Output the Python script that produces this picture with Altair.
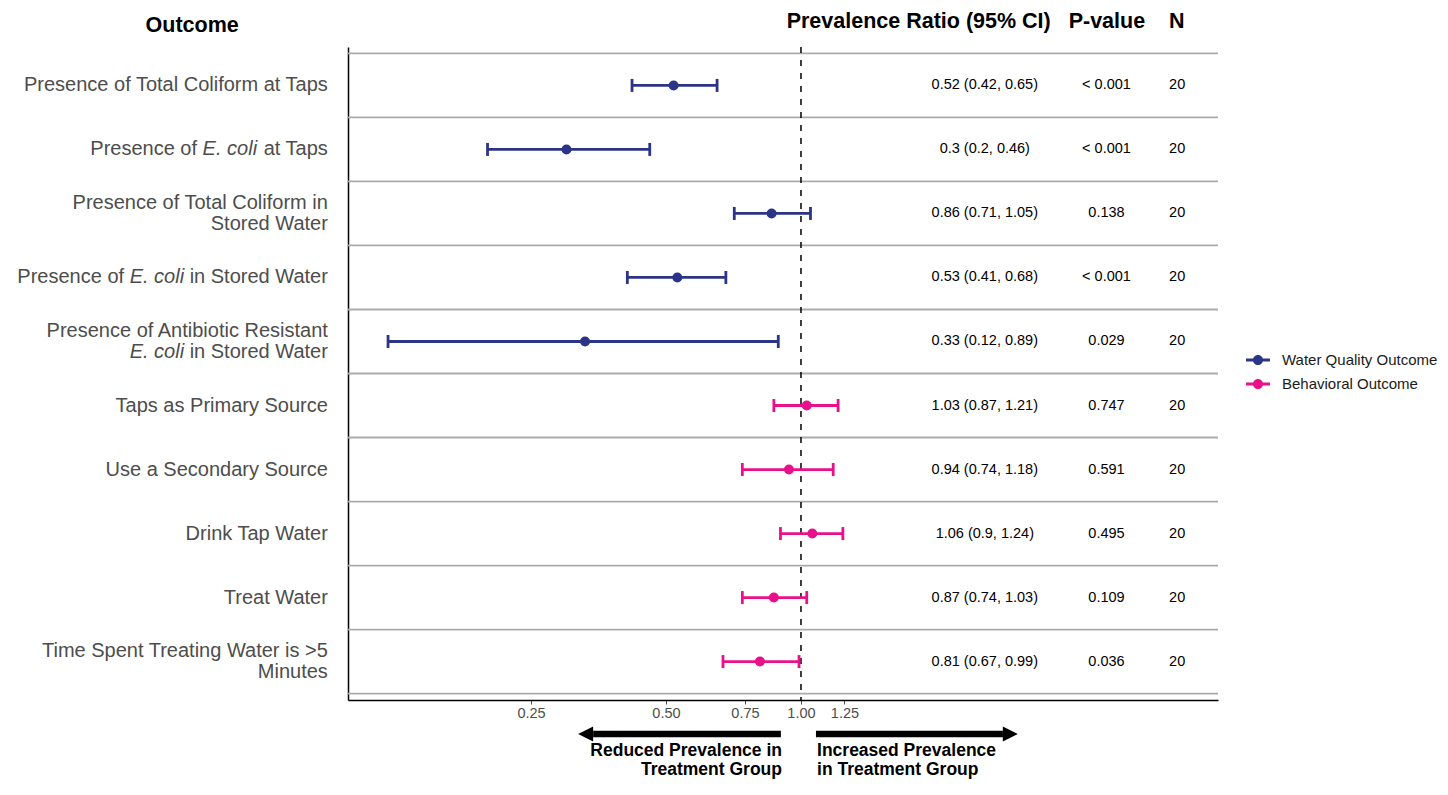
import altair as alt
import pandas as pd

# ---------------- data ----------------
outcomes = [
    "Presence of Total Coliform at Taps",
    "Presence of *E. coli* at Taps",
    "Presence of Total Coliform in\nStored Water",
    "Presence of *E. coli* in Stored Water",
    "Presence of Antibiotic Resistant\n*E. coli* in Stored Water",
    "Taps as Primary Source",
    "Use a Secondary Source",
    "Drink Tap Water",
    "Treat Water",
    "Time Spent Treating Water is >5\nMinutes",
]
groups = ["Water Quality Outcome"] * 5 + ["Behavioral Outcome"] * 5
estimates = [0.52, 0.3, 0.86, 0.53, 0.33, 1.03, 0.94, 1.06, 0.87, 0.81]
lowers = [0.42, 0.2, 0.71, 0.41, 0.12, 0.87, 0.74, 0.9, 0.74, 0.67]
uppers = [0.65, 0.46, 1.05, 0.68, 0.89, 1.21, 1.18, 1.24, 1.03, 0.99]
ci_labels = [
    "0.52 (0.42, 0.65)", "0.3 (0.2, 0.46)", "0.86 (0.71, 1.05)",
    "0.53 (0.41, 0.68)", "0.33 (0.12, 0.89)", "1.03 (0.87, 1.21)",
    "0.94 (0.74, 1.18)", "1.06 (0.9, 1.24)", "0.87 (0.74, 1.03)",
    "0.81 (0.67, 0.99)",
]
p_values = ["< 0.001", "< 0.001", "0.138", "< 0.001", "0.029",
            "0.747", "0.591", "0.495", "0.109", "0.036"]
n_values = ["20"] * 10
x_ticks = [0.25, 0.5, 0.75, 1.0, 1.25]
group_order = ["Water Quality Outcome", "Behavioral Outcome"]
group_colors = ["#2b3486", "#e8118b"]
headers = ["Prevalence Ratio (95% CI)", "P-value", "N"]
arrow_texts = ["Reduced Prevalence in\nTreatment Group",
               "Increased Prevalence\nin Treatment Group"]

# ---------------- layout constants ----------------
FONT = "Liberation Sans"
GREY = "#4d4d4d"
X_DOMAIN = [0.0977, 8.51]
Y_DOMAIN = [0.4, 10.6]
NULL_VALUE = 1.0
CI_X, P_X, N_X = 2.57, 4.8, 6.9
HEADER_X = [1.83, 4.81, 6.89]
HEADER_Y = 0.01
OUTCOME_HEADER_X, OUTCOME_HEADER_Y = 0.0439, 0.072
LABEL_X = 0.0881
LABEL_SIZE = 20
LABEL_LINE = 21.5
ARROW_Y = 11.13
ARROW_TEXT_Y = 11.40   # first line of the captions

# Arial / Liberation Sans advance widths (1/1000 em) and kerning pairs
W = {" ": 278, "a": 556, "t": 278, "T": 611, "p": 556, "s": 500, "i": 222,
     "n": 556, "S": 667, "o": 556, "r": 333, "e": 556, "d": 556, "W": 944,
     "E": 667, ".": 278, "c": 500, "l": 222}
KERN = {"Ta": -74, "Wa": -37}


def text_width(s, size):
    total = sum(W.get(ch, 556) for ch in s)
    total += sum(KERN.get(s[i:i + 2], 0) for i in range(len(s) - 1))
    return total * size / 1000.0


def parse(line):
    clean = line.replace("*", "")
    parts = []
    pos = 0
    for i, chunk in enumerate(line.split("*")):
        italic = (i % 2 == 1)
        start = pos
        pos += len(chunk)
        stripped = chunk.strip()
        if stripped:
            lead = len(chunk) - len(chunk.lstrip())
            end = start + lead + len(stripped)
            parts.append((stripped, italic, clean[end:]))
    return parts


rows = list(range(1, len(outcomes) + 1))
df = pd.DataFrame({
    "row": rows, "group": groups, "est": estimates, "lo": lowers, "hi": uppers,
    "ci": ci_labels, "p": p_values, "n": n_values,
})

xscale = alt.Scale(type="log", domain=X_DOMAIN, nice=False)
yscale = alt.Scale(domain=Y_DOMAIN, reverse=True, nice=False, zero=False)
x_axis = alt.Axis(values=x_ticks, format=".2f", grid=False, title=None,
                  domainColor="black", domainWidth=1.5, tickColor=GREY,
                  tickSize=4, tickWidth=1, labelColor=GREY, labelFont=FONT,
                  labelFontSize=14.5, labelPadding=2, labelOverlap=False,
                  labelFlush=False)
y_axis = alt.Axis(labels=False, ticks=False, grid=False, title=None,
                  domainColor="black", domainWidth=1.5)
cscale = alt.Scale(domain=group_order, range=group_colors)
legend_symbol = ("M-1,-0.12L1,-0.12L1,0.12L-1,0.12Z"
                 "M0.42,0A0.42,0.42,0,1,1,-0.42,0A0.42,0.42,0,1,1,0.42,0Z")
legend = alt.Legend(
    title=None, orient="none", legendX=898, legendY=301,
    symbolType=legend_symbol, symbolSize=576, symbolStrokeWidth=0,
    symbolOpacity=1, labelFont=FONT, labelFontSize=15, labelColor="#1a1a1a",
    labelOffset=12, rowPadding=4, padding=0)
color_enc = alt.Color("group:N", scale=cscale, legend=legend)


def X(field):
    return alt.X(field, type="quantitative", scale=xscale, axis=x_axis)


def Y(field):
    return alt.Y(field, type="quantitative", scale=yscale, axis=y_axis)


# grid lines between rows
grid_df = pd.DataFrame({"g": [r - 0.5 for r in rows] + [rows[-1] + 0.5]})
grid = alt.Chart(grid_df).mark_rule(color="#ababab", strokeWidth=1.8).encode(y=Y("g"))

ref = alt.Chart(pd.DataFrame({"v": [NULL_VALUE]})).mark_rule(
    color="black", strokeWidth=1.5, strokeDash=[6, 7]).encode(x=X("v"))

bars = alt.Chart(df).mark_rule(strokeWidth=2.8).encode(
    x=X("lo"), x2="hi", y=Y("row"), color=color_enc)

caps = alt.Chart(df).transform_fold(["lo", "hi"], as_=["which", "bound"]).mark_tick(
    orient="vertical", thickness=2.8, size=13, opacity=1).encode(
    x=X("bound"), y=Y("row"), color=color_enc)

points = alt.Chart(df).mark_point(filled=True, size=100, opacity=1, shape="circle").encode(
    x=X("est"), y=Y("row"), color=color_enc)

text_layers = []
for xpos, field in [(CI_X, "ci"), (P_X, "p"), (N_X, "n")]:
    text_layers.append(
        alt.Chart(df.assign(xpos=xpos)).mark_text(
            font=FONT, fontSize=14.5, color="black", align="center", baseline="middle"
        ).encode(x=X("xpos"), y=Y("row"), text=alt.Text(field, type="nominal")))

header_df = pd.DataFrame({"h": headers, "xpos": HEADER_X, "ypos": [HEADER_Y] * 3})
header_layer = alt.Chart(header_df).mark_text(
    font=FONT, fontSize=21.5, fontWeight="bold", color="black",
    align="center", baseline="middle").encode(x=X("xpos"), y=Y("ypos"), text="h:N")
outcome_header = alt.Chart(pd.DataFrame({"h": ["Outcome"], "xpos": [OUTCOME_HEADER_X],
                                         "ypos": [OUTCOME_HEADER_Y]})).mark_text(
    font=FONT, fontSize=21.5, fontWeight="bold", color="black",
    align="center", baseline="middle").encode(x=X("xpos"), y=Y("ypos"), text="h:N")

# outcome labels (with italic segments)
seg_rows = []
for r, label in zip(rows, outcomes):
    lines = label.split("\n")
    nl = len(lines)
    for li, line in enumerate(lines):
        dy = (li - (nl - 1) / 2.0) * LABEL_LINE
        for txt, italic, tail in parse(line):
            seg_rows.append(dict(row=r, text=txt, italic=bool(italic),
                                 dx=round(-text_width(tail, LABEL_SIZE), 2), dy=dy,
                                 xpos=LABEL_X))
seg_df = pd.DataFrame(seg_rows)
label_layers = []
for (italic, dx, dy), sub in seg_df.groupby(["italic", "dx", "dy"]):
    label_layers.append(
        alt.Chart(sub.reset_index(drop=True)).mark_text(
            align="right", baseline="middle", font=FONT, fontSize=LABEL_SIZE,
            fontStyle="italic" if italic else "normal", color=GREY,
            dx=float(dx), dy=float(dy)).encode(x=X("xpos"), y=Y("row"), text="text:N"))

# direction arrows
shaft_df = pd.DataFrame({"x1": [0.344, 1.08], "x2": [0.902, 2.82], "ypos": [ARROW_Y] * 2})
shafts = alt.Chart(shaft_df).mark_rule(color="black", strokeWidth=6.5).encode(
    x=X("x1"), x2="x2", y=Y("ypos"))
head_left = alt.Chart(pd.DataFrame({"xpos": [0.331], "ypos": [ARROW_Y]})).mark_point(
    shape="M-1,0L1,-1L1,1Z", size=225, filled=True, opacity=1, color="black").encode(
    x=X("xpos"), y=Y("ypos"))
head_right = alt.Chart(pd.DataFrame({"xpos": [2.93], "ypos": [ARROW_Y]})).mark_point(
    shape="M1,0L-1,-1L-1,1Z", size=225, filled=True, opacity=1, color="black").encode(
    x=X("xpos"), y=Y("ypos"))
arrow_left_text = alt.Chart(pd.DataFrame({"t": [arrow_texts[0]], "xpos": [0.907],
                                          "ypos": [ARROW_TEXT_Y]})).mark_text(
    font=FONT, fontSize=17.5, fontWeight="bold", color="black", align="right",
    baseline="middle", lineBreak="\n", lineHeight=18.5).encode(
    x=X("xpos"), y=Y("ypos"), text="t:N")
arrow_right_text = alt.Chart(pd.DataFrame({"t": [arrow_texts[1]], "xpos": [1.086],
                                           "ypos": [ARROW_TEXT_Y]})).mark_text(
    font=FONT, fontSize=17.5, fontWeight="bold", color="black", align="left",
    baseline="middle", lineBreak="\n", lineHeight=18.5).encode(
    x=X("xpos"), y=Y("ypos"), text="t:N")

chart = alt.layer(
    grid, ref, bars, caps, points, *text_layers, header_layer, outcome_header,
    *label_layers, shafts, head_left, head_right, arrow_left_text, arrow_right_text,
).properties(
    width=870, height=653,
    autosize=alt.AutoSizeParams(type="none"),
    padding={"left": 340, "top": 39, "right": 220, "bottom": 80},
    background="white",
).configure_view(stroke=None)

chart.save("out.html", embed_options={"renderer": "svg", "actions": False})
